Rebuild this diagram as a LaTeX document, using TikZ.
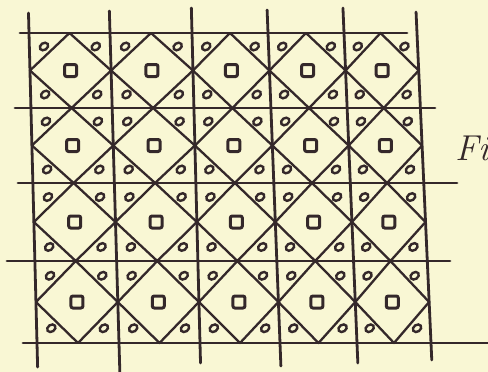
\documentclass[tikz,border=0pt]{standalone}
\usetikzlibrary{calc}
\definecolor{paper}{RGB}{249,247,212}
\definecolor{ink}{RGB}{52,40,42}

\begin{document}
\begin{tikzpicture}[x=1pt, y=-1pt,
        gridline/.style={draw=ink, line width=2.8pt, line cap=round},
        diamondline/.style={draw=ink, line width=2.3pt, line join=round},
        sq/.style={draw=ink, line width=3pt, rounded corners=2pt},
        ring/.style={draw=ink, line width=2.4pt}]

    \fill [paper] (0,0) rectangle (488,372);
    \clip (0,0) rectangle (488,372);

    % column lines: index / x at top row / x at bottom row / upper end / lower end
    \foreach \i/\xt/\xb/\ya/\yb in {0/29/37/13/367, 1/110/119/11/375, 2/192/200/8/363, 3/268/280/10/366, 4/344/357/8/363, 5/417/431/12/360} {
        \foreach \j/\y in {0/33, 1/108, 2/183, 3/261, 4/343}
            \coordinate (p\i\j) at ({\xt+(\xb-\xt)*(\y-33)/310}, \y);
        \draw [gridline] ({\xt+(\xb-\xt)*(\ya-33)/310}, \ya) -- ({\xt+(\xb-\xt)*(\yb-33)/310}, \yb);
    }

    % row lines
    \foreach \y/\xa/\xb in {33/20/407, 108/15/435, 183/18/457, 261/7/450, 343/23/488}
        \draw [gridline] (\xa,\y) -- (\xb,\y);

    % one diamond, square and four rings per cell
    \foreach \i [evaluate=\i as \ni using int(\i+1)] in {0,...,4} {
        \foreach \j [evaluate=\j as \nj using int(\j+1)] in {0,...,3} {
            \coordinate (a) at (p\i\j);
            \coordinate (b) at (p\ni\j);
            \coordinate (c) at (p\ni\nj);
            \coordinate (d) at (p\i\nj);
            \draw [diamondline] ($(a)!.5!(b)$) -- ($(b)!.5!(c)$) -- ($(c)!.5!(d)$) -- ($(d)!.5!(a)$) -- cycle;
            \draw [sq] ($(a)!.5!(c)$) +(-6,-6) rectangle +(6,6);
            \foreach \k/\m in {a/c, b/d, c/a, d/b} {
                \draw [ring, shift={($(\k)!0.18!(\m)$)}, rotate=35] (0,0) ellipse [x radius=4.5, y radius=3.4];
            }
        }
    }

    \node [anchor=east, text=ink, font=\itshape\fontsize{36}{36}\selectfont, inner sep=1pt] (figlabel) at (490,148) {Fi};
\end{tikzpicture}
\end{document}
